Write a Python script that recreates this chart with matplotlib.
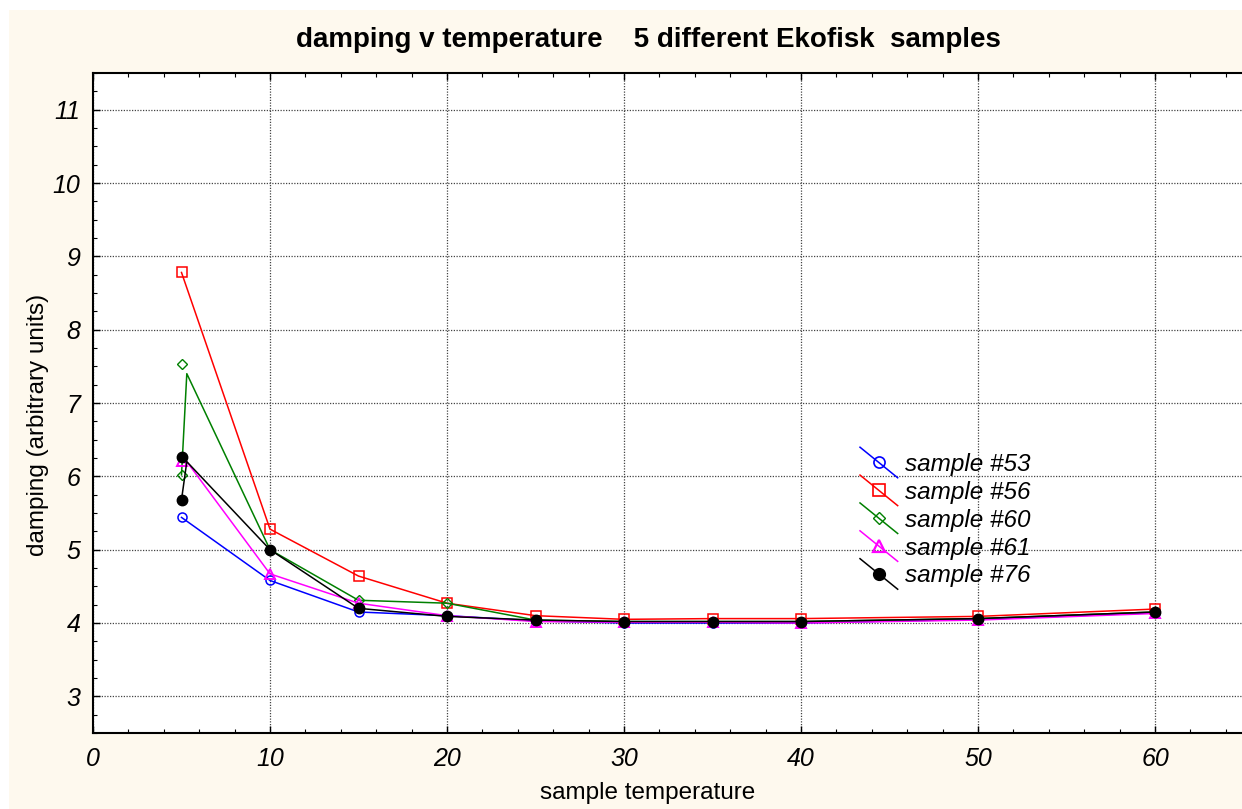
import matplotlib
matplotlib.use("Agg")
import matplotlib.pyplot as plt
from matplotlib.lines import Line2D
from matplotlib.legend_handler import HandlerLine2D
from matplotlib.patches import Rectangle
from matplotlib.ticker import MultipleLocator

# ---- data ----
s53_x = [5, 10, 15, 20, 25, 30, 35, 40, 50, 60]
s53_y = [5.44, 4.58, 4.15, 4.10, 4.03, 4.00, 4.00, 4.00, 4.05, 4.14]

s56_x = [5, 10, 15, 20, 25, 30, 35, 40, 50, 60]
s56_y = [8.78, 5.28, 4.64, 4.27, 4.10, 4.05, 4.06, 4.06, 4.09, 4.19]

s60_x = [5, 5, 10, 15, 20, 25, 30, 35, 40, 50, 60]
s60_y = [7.53, 6.02, 5.00, 4.31, 4.27, 4.04, 4.02, 4.02, 4.02, 4.06, 4.15]
s60_line_x = [5, 5.3, 10, 15, 20, 25, 30, 35, 40, 50, 60]
s60_line_y = [6.02, 7.40, 5.00, 4.31, 4.27, 4.04, 4.02, 4.02, 4.02, 4.06, 4.15]

s61_x = [5, 10, 15, 20, 25, 30, 35, 40, 50, 60]
s61_y = [6.21, 4.67, 4.27, 4.10, 4.02, 4.01, 4.01, 4.00, 4.04, 4.13]
s61_line_x = [5.3, 10, 15, 20, 25, 30, 35, 40, 50, 60]
s61_line_y = [6.20, 4.67, 4.27, 4.10, 4.02, 4.01, 4.01, 4.00, 4.04, 4.13]

s76_x = [5, 5, 10, 15, 20, 25, 30, 35, 40, 50, 60]
s76_y = [6.27, 5.68, 5.00, 4.20, 4.09, 4.04, 4.02, 4.02, 4.02, 4.06, 4.15]
s76_line_x = [5, 5.3, 10, 15, 20, 25, 30, 35, 40, 50, 60]
s76_line_y = [5.68, 6.20, 5.00, 4.20, 4.09, 4.04, 4.02, 4.02, 4.02, 4.06, 4.15]

labels = ["sample #53", "sample #56", "sample #60", "sample #61", "sample #76"]
title = "damping v temperature    5 different Ekofisk  samples"
xlabel = "sample temperature"
ylabel = "damping (arbitrary units)"
y_ticks = [3, 4, 5, 6, 7, 8, 9, 10, 11]

plt.rcParams['font.family'] = ['Liberation Sans', 'DejaVu Sans']

W, H = 1242, 809
fig = plt.figure(figsize=(W / 100, H / 100), dpi=100, facecolor='white')
fig.patches.append(Rectangle((9 / W, 0), 1, 1 - 10 / H, transform=fig.transFigure,
                             facecolor='#FEF9EE', edgecolor='none', zorder=-10))

left, right_px, bottom_px, top_px = 93, 1243.5, 733, 73
ax = fig.add_axes([left / W, (H - bottom_px) / H, (right_px - left) / W, (bottom_px - top_px) / H])
ax.set_facecolor('white')
ax.set_xlim(0, 65)
ax.set_ylim(2.5, 11.5)

ax.xaxis.set_major_locator(MultipleLocator(10))
ax.xaxis.set_minor_locator(MultipleLocator(2))
ax.yaxis.set_minor_locator(MultipleLocator(0.25))
ax.set_yticks(y_ticks)

ax.tick_params(which='both', direction='in', top=True, right=False, color='black')
ax.tick_params(which='major', length=5, width=1)
ax.tick_params(which='minor', length=3, width=0.8)
ax.tick_params(axis='x', which='major', pad=10, labelsize=18)
ax.tick_params(axis='y', which='major', pad=9, labelsize=18)
for lab in ax.get_xticklabels() + ax.get_yticklabels():
    lab.set_fontstyle('italic')

for sp in ['left', 'bottom', 'top']:
    ax.spines[sp].set_linewidth(1.5)
    ax.spines[sp].set_color('black')
ax.spines['right'].set_visible(False)

ax.grid(True, which='major', linestyle=(0, (1, 1.2)), color='#444444', linewidth=0.9)
ax.set_axisbelow(True)

lw = 1.1
ax.plot(s53_x, s53_y, color='blue', lw=lw, marker='o', ms=6.5, mfc='none', mec='blue', mew=1.1, zorder=3)
ax.plot(s56_x, s56_y, color='red', lw=lw, marker='s', ms=7, mfc='none', mec='red', mew=1.1, zorder=3)
ax.plot(s60_line_x, s60_line_y, color='green', lw=lw, zorder=3)
ax.plot(s60_x, s60_y, ls='none', marker='D', ms=5, mfc='none', mec='green', mew=1.0, zorder=3)
ax.plot(s61_line_x, s61_line_y, color='magenta', lw=lw, zorder=3)
ax.plot(s61_x, s61_y, ls='none', marker='^', ms=7, mfc='none', mec='magenta', mew=1.4, zorder=3)
ax.plot(s76_line_x, s76_line_y, color='black', lw=lw, zorder=4)
ax.plot(s76_x, s76_y, ls='none', marker='o', ms=7.5, mfc='black', mec='black', zorder=4)

ax.set_xlabel(xlabel, fontsize=17.5, labelpad=8)
ax.set_ylabel(ylabel, fontsize=17.5, labelpad=3)
ax.xaxis.label.set_x((648 - left) / (right_px - left))
ax.yaxis.label.set_y((bottom_px - 425) / (bottom_px - top_px))
fig.text(648 / W, 1 - 40 / H, title, ha='center', va='center', fontsize=20, fontweight='bold')


class SlantHandler(HandlerLine2D):
    def create_artists(self, legend, orig_handle, xdescent, ydescent, width, height, fontsize, trans):
        x0, x1 = -xdescent, -xdescent + width
        yc = -ydescent + height / 2
        y0, y1 = yc + 11, yc - 11
        line = Line2D([x0, x1], [y0, y1], color=orig_handle.get_color(), lw=orig_handle.get_linewidth())
        mk = Line2D([(x0 + x1) / 2], [(y0 + y1) / 2], ls='none', marker=orig_handle.get_marker(),
                    ms=orig_handle.get_markersize(), mfc=orig_handle.get_markerfacecolor(),
                    mec=orig_handle.get_markeredgecolor(), mew=orig_handle.get_markeredgewidth())
        line.set_transform(trans)
        mk.set_transform(trans)
        return [line, mk]


handles = [
    Line2D([], [], color='blue', lw=lw, marker='o', ms=8, mfc='none', mec='blue', mew=1.2),
    Line2D([], [], color='red', lw=lw, marker='s', ms=8, mfc='none', mec='red', mew=1.2),
    Line2D([], [], color='green', lw=lw, marker='D', ms=6, mfc='none', mec='green', mew=1.0),
    Line2D([], [], color='magenta', lw=lw, marker='^', ms=8, mfc='none', mec='magenta', mew=1.6),
    Line2D([], [], color='black', lw=lw, marker='o', ms=8.5, mfc='black', mec='black'),
]
leg = ax.legend(handles, labels, loc='upper left',
                bbox_to_anchor=((860 - left) / (right_px - left), (bottom_px - 453) / (bottom_px - top_px)),
                frameon=False, prop={'size': 17.5, 'style': 'italic'}, handlelength=1.55, handletextpad=0.3,
                labelspacing=0.2, borderpad=0, borderaxespad=0,
                handler_map={Line2D: SlantHandler()})

fig.savefig('out.png', dpi=100, facecolor=fig.get_facecolor())
